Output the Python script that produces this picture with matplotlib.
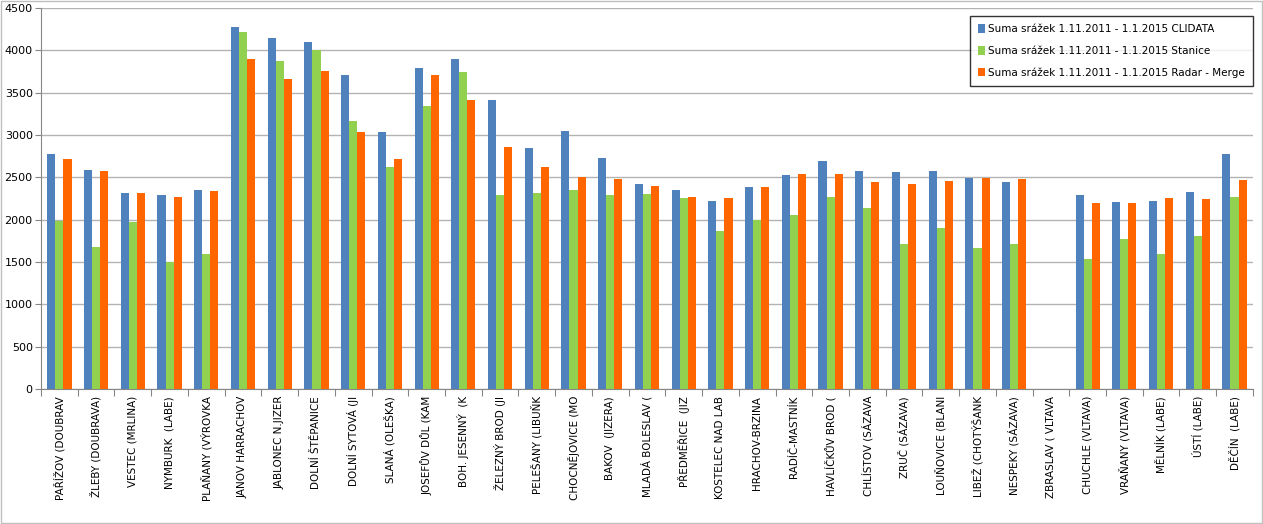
import numpy as np
import matplotlib.pyplot as plt
from matplotlib.patches import Rectangle

stations = ["PAŘÍŽOV (DOUBRAV", "ŽLEBY (DOUBRAVA)", "VESTEC (MRLINA)", "NYMBURK  (LABE)",
            "PLAŇANY (VÝROVKA", "JANOV HARRACHOV", "JABLONEC N.JIZER", "DOLNÍ ŠTĚPANICE",
            "DOLNÍ SYTOVÁ (JI", "SLANÁ (OLEŠKA)", "JOSEFŮV DŮL (KAM", "BOH. JESENNÝ  (K",
            "ŽELEZNÝ BROD (JI", "PELEŠANY (LIBUŇK", "CHOCNĚJOVICE (MO", "BAKOV  (JIZERA)",
            "MLADÁ BOLESLAV (", "PŘEDMĚŘICE  (JIZ", "KOSTELEC NAD LAB", "HRACHOV-BRZINA",
            "RADÍČ-MASTNÍK", "HAVLÍČKŮV BROD (", "CHLÍSTOV (SÁZAVA", "ZRUČ (SÁZAVA)",
            "LOUŇOVICE (BLANI", "LIBEŽ (CHOTÝŠANK", "NESPEKY (SÁZAVA)", "ZBRASLAV ( VLTAVA",
            "CHUCHLE (VLTAVA)", "VRAŇANY (VLTAVA)", "MĚLNÍK (LABE)", "ÚSTÍ (LABE)", "DĚČÍN  (LABE)"]

clidata = [2780, 2590, 2310, 2290, 2350, 4270, 4150, 4100, 3710, 3040, 3790, 3900,
           3410, 2850, 3050, 2730, 2420, 2350, 2220, 2390, 2530, 2690, 2570, 2560,
           2580, 2490, 2450, np.nan, 2290, 2210, 2220, 2330, 2780]
stanice = [1990, 1680, 1970, 1500, 1590, 4220, 3880, 4000, 3170, 2620, 3340, 3750,
           2290, 2320, 2350, 2290, 2300, 2260, 1870, 2000, 2050, 2270, 2140, 1710,
           1900, 1660, 1710, np.nan, 1540, 1770, 1590, 1810, 2270]
radar = [2720, 2580, 2310, 2270, 2340, 3900, 3660, 3760, 3040, 2720, 3710, 3410,
         2860, 2620, 2500, 2480, 2400, 2270, 2260, 2390, 2540, 2540, 2450, 2420,
         2460, 2490, 2480, np.nan, 2200, 2200, 2260, 2250, 2470]

series = [("Suma srážek 1.11.2011 - 1.1.2015 CLIDATA", clidata, "#4f81bd"),
          ("Suma srážek 1.11.2011 - 1.1.2015 Stanice", stanice, "#92d050"),
          ("Suma srážek 1.11.2011 - 1.1.2015 Radar - Merge", radar, "#ff6600")]

fig = plt.figure(figsize=(12.63, 5.24), dpi=100)
fig.patches.append(Rectangle((0.001, 0.002), 0.998, 0.996, transform=fig.transFigure,
                             fill=False, edgecolor="#bfbfbf", linewidth=1))
ax = fig.add_axes([0.0325, 0.2576, 0.9595, 0.7271])

x = np.arange(len(stations))
w = 0.22
for i, (name, vals, col) in enumerate(series):
    ax.bar(x + (i - 1) * w, vals, width=w, color=col, label=name, zorder=3)

ax.set_xlim(-0.5, len(stations) - 0.5)
ax.set_ylim(0, 4500)
ax.set_yticks(np.arange(0, 4501, 500))
ax.yaxis.grid(True, color="#b3b3b3", linewidth=1, zorder=0)
ax.tick_params(axis="y", labelsize=8, length=4, color="#868686", pad=2)

ax.set_xticks(np.arange(-0.5, len(stations), 1.0), minor=False)
ax.set_xticklabels([])
ax.tick_params(axis="x", length=5, color="#868686")
for xi, lab in zip(x, stations):
    ax.text(xi, -0.018, lab, transform=ax.get_xaxis_transform(), rotation=90,
            ha="center", va="top", fontsize=7.5)

for s in ["top", "right"]:
    ax.spines[s].set_visible(False)
for s in ["left", "bottom"]:
    ax.spines[s].set_color("#868686")

leg = ax.legend(loc="upper right", bbox_to_anchor=(1.0, 0.979), borderaxespad=0,
                fontsize=7.5, frameon=True, fancybox=False, handlelength=0.6,
                handleheight=0.9, handletextpad=0.3, labelspacing=1.1, borderpad=0.8)
leg.get_frame().set_edgecolor("black")
leg.get_frame().set_linewidth(1)

fig.savefig("out.png", dpi=100)
